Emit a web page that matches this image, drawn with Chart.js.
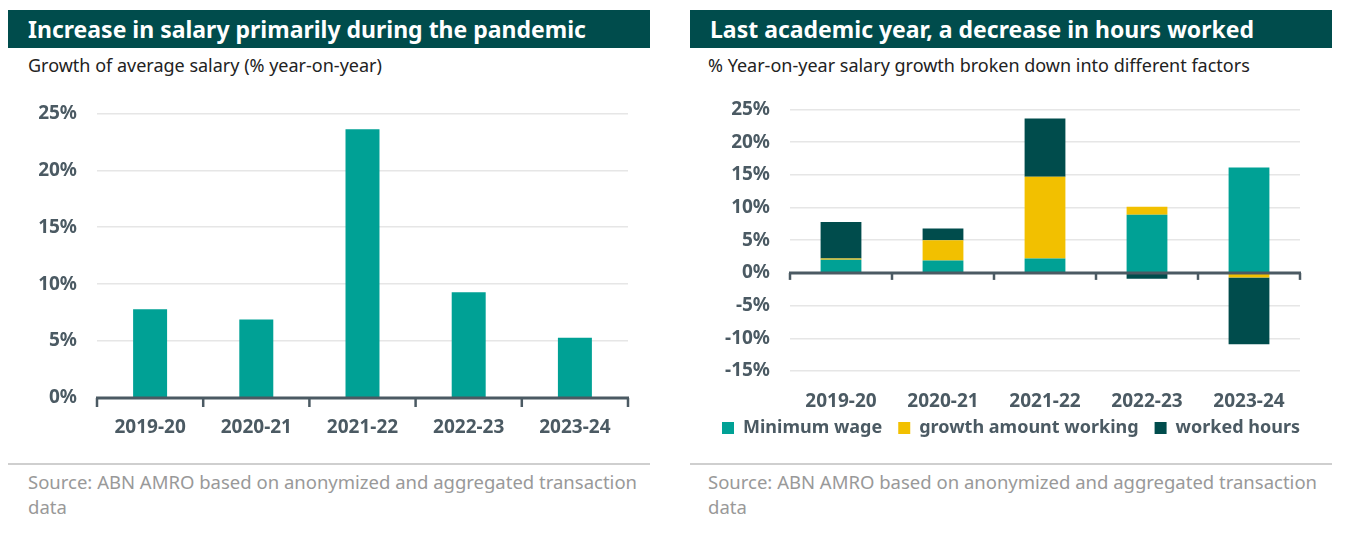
<!DOCTYPE html>
<html>
<head>
<meta charset="utf-8">
<script src="https://cdn.jsdelivr.net/npm/chart.js@4.4.1/dist/chart.umd.min.js"></script>
<style>
  html, body { margin:0; padding:0; background:#fff; width:1346px; height:553px; overflow:hidden; font-family: "Noto Sans", sans-serif; }
  .banner { position:absolute; top:10px; height:38px; width:642px; background:#004c4c; color:#fff; font-weight:700; font-size:23px; line-height:38px; box-sizing:border-box; padding-left:20px; white-space:nowrap; }
  .sub { position:absolute; top:53px; font-size:18px; color:#222; white-space:nowrap; }
  .sep { position:absolute; top:463px; height:2px; width:642px; background:#cfcfcf; }
  .src { position:absolute; top:469px; width:612px; font-size:18.5px; line-height:25px; color:#999; }
  .cv { position:absolute; }
</style>
</head>
<body>
<div class="banner" style="left:8px;">Increase in salary primarily during the pandemic</div>
<div class="sub" style="left:28px;">Growth of average salary (% year-on-year)</div>
<div class="cv" style="left:8px; top:82px; width:642px; height:368px;"><canvas id="c1"></canvas></div>
<div class="sep" style="left:8px;"></div>
<div class="src" style="left:28px;">Source: ABN AMRO based on anonymized and aggregated transaction data</div>

<div class="banner" style="left:690px;">Last academic year, a decrease in hours worked</div>
<div class="sub" style="left:708px;">% Year-on-year salary growth broken down into different factors</div>
<div class="cv" style="left:690px; top:78px; width:642px; height:372px;"><canvas id="c2"></canvas></div>
<div class="sep" style="left:690px;"></div>
<div class="src" style="left:708px;">Source: ABN AMRO based on anonymized and aggregated transaction data</div>

<script>
// ---- data ----
const categories = ["2019-20", "2020-21", "2021-22", "2022-23", "2023-24"];
const salaryGrowth = [7.8, 6.9, 23.6, 9.3, 5.3];
const minimumWage = [2.0, 1.9, 2.2, 8.9, 16.1];
const growthAmountWorking = [0.2, 3.1, 12.5, 1.2, -0.7];
const workedHours = [5.6, 1.8, 8.9, -0.9, -10.2];
const seriesNames = ["Minimum wage", "growth amount working", "worked hours"];
const leftTicks = { min: 0, max: 25, step: 5 };
const rightTicks = { min: -15, max: 25, step: 5 };

const TEAL = "#00a195", YELLOW = "#f2c000", DARK = "#004c4c", AXIS = "#4b5a63", GRID = "#e6e6e6";
const FONT = "'Noto Sans', sans-serif";

function makeZeroAxis(tickLen) {
  return {
    id: 'zeroAxis',
    afterDatasetsDraw(chart) {
      const { ctx, chartArea, scales: { x, y } } = chart;
      const y0 = y.getPixelForValue(0);
      ctx.save();
      ctx.strokeStyle = AXIS;
      ctx.lineWidth = 3;
      ctx.beginPath();
      ctx.moveTo(chartArea.left - 1, y0);
      ctx.lineTo(chartArea.right + 1, y0);
      ctx.stroke();
      ctx.lineWidth = 2.5;
      const n = chart.data.labels.length;
      for (let i = 0; i <= n; i++) {
        const px = x.getPixelForValue(i - 0.5);
        ctx.beginPath();
        ctx.moveTo(px, y0);
        ctx.lineTo(px, y0 + tickLen);
        ctx.stroke();
      }
      ctx.restore();
    }
  };
}

function yAxis(t, width) {
  return {
    min: t.min, max: t.max,
    border: { display: false },
    grid: { color: GRID, lineWidth: 1.5, drawTicks: false },
    ticks: { stepSize: t.step, padding: 20, color: AXIS, font: { family: FONT, size: 19, weight: 'bold' },
             callback: v => v + '%' },
    afterFit: s => { s.width = width; }
  };
}

new Chart(document.getElementById('c1'), {
  type: 'bar',
  data: { labels: categories, datasets: [{ data: salaryGrowth, backgroundColor: TEAL, barPercentage: 0.32, categoryPercentage: 1 }] },
  options: {
    responsive: true, maintainAspectRatio: false, animation: false,
    layout: { padding: { top: 0, right: 22, left: 0, bottom: 0 } },
    plugins: { legend: { display: false }, tooltip: { enabled: false } },
    scales: {
      x: { border: { display: false }, grid: { display: false },
           ticks: { padding: 10, color: AXIS, font: { family: FONT, size: 19, weight: 'bold' } },
           afterFit: s => { s.height = 52; } },
      y: yAxis(leftTicks, 89)
    }
  },
  plugins: [makeZeroAxis(9)]
});

new Chart(document.getElementById('c2'), {
  type: 'bar',
  data: { labels: categories, datasets: [
    { label: seriesNames[0], data: minimumWage, backgroundColor: TEAL, barPercentage: 0.4, categoryPercentage: 1 },
    { label: seriesNames[1], data: growthAmountWorking, backgroundColor: YELLOW, barPercentage: 0.4, categoryPercentage: 1 },
    { label: seriesNames[2], data: workedHours, backgroundColor: DARK, barPercentage: 0.4, categoryPercentage: 1 }
  ] },
  options: {
    responsive: true, maintainAspectRatio: false, animation: false,
    layout: { padding: { top: 0, right: 0, left: 0, bottom: 3 } },
    plugins: {
      legend: { position: 'bottom', labels: { boxWidth: 12, boxHeight: 12, padding: 16, color: AXIS,
                font: { family: FONT, size: 18, weight: 'bold' } } },
      tooltip: { enabled: false }
    },
    scales: {
      x: { stacked: true, border: { display: false }, grid: { display: false },
           ticks: { padding: 11, color: AXIS, font: { family: FONT, size: 19, weight: 'bold' } },
           afterFit: s => { s.height = 32; s._computeLabelArea = () => null; } },
      y: Object.assign(yAxis(rightTicks, 100), { stacked: true }),
      spacer: { position: 'right', display: true, grid: { display: false }, border: { display: false },
                ticks: { display: false }, afterFit: s => { s.width = 32; } }
    }
  },
  plugins: [makeZeroAxis(7)]
});
</script>
</body>
</html>
